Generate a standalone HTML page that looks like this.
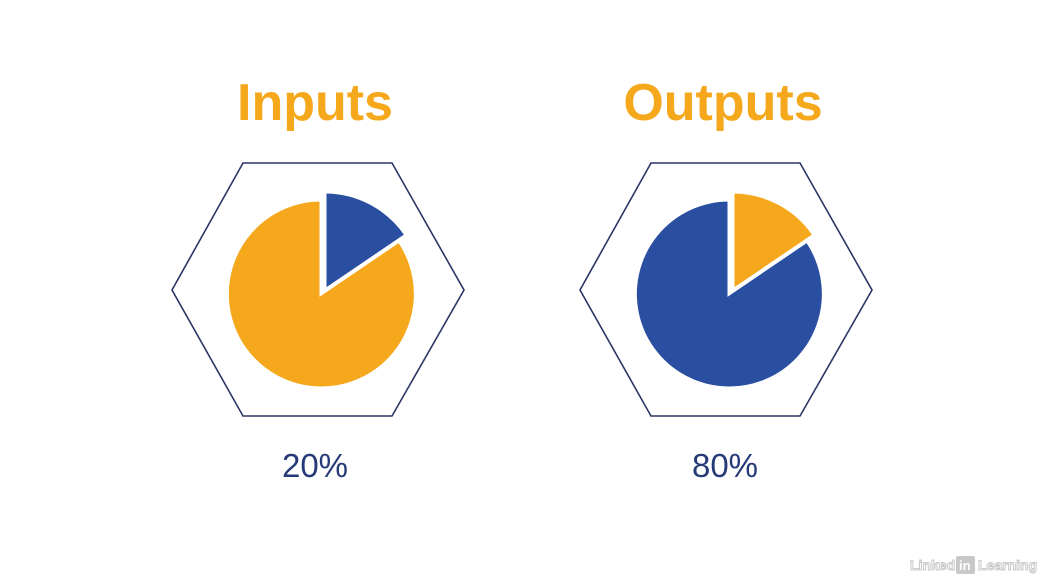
<!DOCTYPE html>
<html><head><meta charset="utf-8"><style>
html,body{margin:0;padding:0;background:#fff;width:1047px;height:584px;overflow:hidden}
</style></head><body>
<svg width="1047" height="584" viewBox="0 0 1047 584" xmlns="http://www.w3.org/2000/svg">
<rect width="1047" height="584" fill="#fff"/>
<g font-family="Liberation Sans, sans-serif">
<text x="315" y="120" text-anchor="middle" font-size="52" font-weight="bold" fill="#f6a81c">Inputs</text>
<text x="723" y="120" text-anchor="middle" font-size="52" font-weight="bold" fill="#f6a81c">Outputs</text>
<text x="315" y="477" text-anchor="middle" font-size="33" fill="#263a78">20%</text>
<text x="725" y="477" text-anchor="middle" font-size="33" fill="#263a78">80%</text>
</g>
<polygon points="172,290 243,163 392,163 464,290 392,416 243,416" fill="none" stroke="#2b3466" stroke-width="1.6"/>
<polygon points="580,290 651,163 800,163 872,290 800,416 651,416" fill="none" stroke="#2b3466" stroke-width="1.6"/>
<path d="M321,294 L399,241 A94,94 0 1 1 321,200 Z" fill="#f6a81c" stroke="#fff" stroke-width="3"/>
<path d="M325,290 L325,192 A98,98 0 0 1 406,235 Z" fill="#2a4fa1" stroke="#fff" stroke-width="3"/>
<path d="M729,294 L807,241 A94,94 0 1 1 729,200 Z" fill="#2a4fa1" stroke="#fff" stroke-width="3"/>
<path d="M733,290 L733,192 A98,98 0 0 1 814,235 Z" fill="#f6a81c" stroke="#fff" stroke-width="3"/>
<text x="910" y="570" font-family="Liberation Sans, sans-serif" font-size="14" font-weight="bold" fill="#fff" stroke="#c8c8c8" stroke-width="1">Linked</text>
<rect x="956" y="556" width="19" height="18" rx="2" fill="#c8c8c8"/>
<text x="959" y="570" font-family="Liberation Sans, sans-serif" font-size="13" font-weight="bold" fill="#fff">in</text>
<text x="978" y="570" font-family="Liberation Sans, sans-serif" font-size="14" font-weight="bold" fill="#fff" stroke="#c8c8c8" stroke-width="1">Learning</text>
</svg>
</body></html>
